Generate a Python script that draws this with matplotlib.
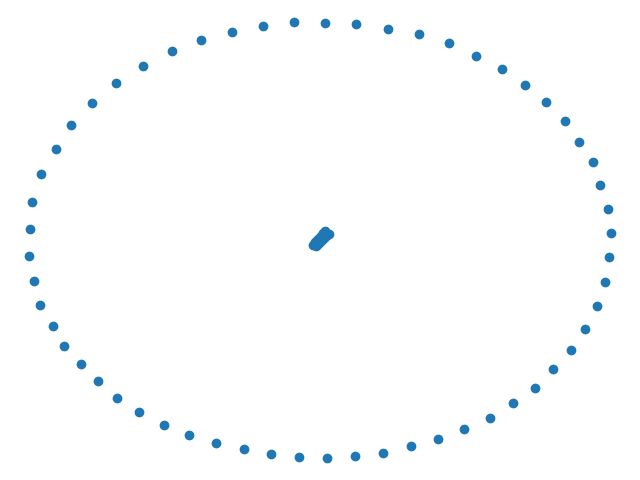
import matplotlib
matplotlib.use("Agg")
import matplotlib.pyplot as plt

# ring points (arbitrary units, y pointing up)
ring_x = [294.3, 263.3, 232.3, 201.3, 172.3, 143.3, 116.3, 92.3, 71.0, 56.3,
          41.3, 32.3, 30.3,
          325.3, 356.3, 388.3, 419.3, 449.3, 476.3, 502.3, 525.3, 546.3, 565.3,
          579.3, 593.3, 600.3, 608.3, 611.3,
          29.3, 34.3, 40.3, 53.3, 64.3, 81.3, 98.3, 117.3, 139.3, 164.3,
          189.3, 216.3, 244.3, 271.3, 299.3,
          327.3, 355.3, 383.3, 411.3, 438.3, 464.3, 490.3, 513.3, 535.3, 553.3,
          571.3, 585.3, 597.3, 605.3, 609.3]
ring_y = [457.7, 453.7, 447.7, 439.7, 428.7, 413.7, 396.7, 376.7, 354.7, 330.7,
          305.7, 277.7, 251.0,
          456.7, 455.7, 450.7, 445.7, 436.7, 423.7, 410.7, 394.7, 377.7, 358.7,
          337.7, 317.7, 295.0, 270.7, 246.7,
          223.7, 198.7, 174.7, 153.7, 133.7, 115.7, 98.7, 81.7, 67.7, 54.7,
          44.7, 36.7, 30.7, 25.7, 22.7,
          21.7, 23.7, 26.7, 33.7, 40.7, 50.7, 61.7, 76.7, 91.7, 110.7,
          129.7, 150.7, 173.7, 197.7, 222.7]

# tight cluster in the middle
core_x = [313.5, 315.4, 317.3, 319.3, 321.2, 323.1, 325.0,
          316.0, 318.2, 320.3, 322.5, 324.7, 326.8, 329.0]
core_y = [235.0, 237.3, 239.5, 241.8, 244.0, 246.3, 248.5,
          233.5, 235.6, 237.7, 239.8, 241.8, 243.9, 246.0]

fig = plt.figure(figsize=(6.4, 4.8), dpi=100)
ax = fig.add_axes((0, 0, 1, 1))
ax.scatter(ring_x + core_x, ring_y + core_y)
ax.set_axis_off()
fig.savefig("out.png")
